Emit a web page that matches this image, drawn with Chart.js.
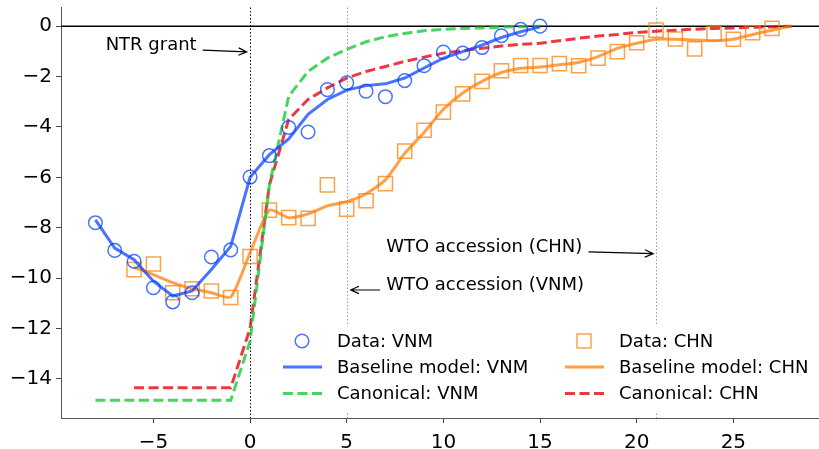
<!DOCTYPE html>
<html>
<head>
<meta charset="utf-8">
<script src="https://cdn.jsdelivr.net/npm/chart.js@4.4.0/dist/chart.umd.min.js"></script>
<style>
  html, body { margin: 0; padding: 0; background: #fff; }
  canvas { display: block; }
</style>
</head>
<body>
<canvas id="chart" width="819" height="449"></canvas>
<script>
// years relative to event
var vnmYears = [-8, -7, -6, -5, -4, -3, -2, -1, 0, 1, 2, 3, 4, 5, 6, 7, 8, 9, 10, 11, 12, 13, 14, 15];
var vnmData = [-7.80, -8.90, -9.33, -10.38, -10.94, -10.58, -9.16, -8.88, -5.99, -5.14, -4.02, -4.20,
               -2.52, -2.25, -2.58, -2.80, -2.16, -1.57, -1.03, -1.07, -0.85, -0.38, -0.13, 0.0];
var vnmModel = [-7.69, -8.81, -9.27, -10.12, -10.71, -10.51, -9.66, -8.74, -6.00, -5.10, -4.48, -3.50,
                -2.91, -2.54, -2.36, -2.29, -2.06, -1.66, -1.27, -1.01, -0.75, -0.45, -0.22, -0.03];
var vnmCanon = [-14.85, -14.85, -14.85, -14.85, -14.85, -14.85, -14.85, -14.85, -12.5, -6.3, -2.78, -1.80,
                -1.27, -0.92, -0.62, -0.42, -0.29, -0.18, -0.13, -0.09, -0.07, -0.04, -0.02, 0.0];

var chnYears = [-6, -5, -4, -3, -2, -1, 0, 1, 2, 3, 4, 5, 6, 7, 8, 9, 10, 11, 12, 13, 14, 15, 16, 17,
                18, 19, 20, 21, 22, 23, 24, 25, 26, 27, 28];
var chnData = [-9.66, -9.44, -10.58, -10.42, -10.51, -10.77, -9.14, -7.30, -7.60, -7.63, -6.30, -7.26,
               -6.93, -6.25, -4.96, -4.13, -3.41, -2.69, -2.19, -1.77, -1.56, -1.56, -1.49, -1.57,
               -1.27, -1.01, -0.66, -0.16, -0.51, -0.90, -0.29, -0.52, -0.26, -0.09];
var chnModel = [-9.57, -9.86, -10.18, -10.42, -10.58, -10.75, -9.00, -7.30, -7.60, -7.45, -7.13, -6.97,
                -6.65, -6.10, -5.05, -4.22, -3.30, -2.65, -2.19, -1.84, -1.67, -1.62, -1.53, -1.44,
                -1.21, -0.88, -0.68, -0.52, -0.52, -0.55, -0.58, -0.52, -0.33, -0.16, 0.0];
var chnCanon = [-14.35, -14.35, -14.35, -14.35, -14.35, -14.35, -12.0, -6.3, -3.7, -2.91, -2.45, -2.06,
                -1.80, -1.60, -1.40, -1.23, -1.07, -0.97, -0.88, -0.79, -0.72, -0.68, -0.58, -0.48,
                -0.39, -0.33, -0.25, -0.20, -0.16, -0.12, -0.09, -0.07, -0.04, -0.03, 0.0];

var xTicks = [-5, 0, 5, 10, 15, 20, 25];
var yTicks = [-14, -12, -10, -8, -6, -4, -2, 0];

var eventLines = [0, 5, 21];
var notes = [
  { text: 'NTR grant', tx: -7.47, ty: -0.78, from: [-2.45, -0.95], to: [-0.17, -1.02] },
  { text: 'WTO accession (CHN)', tx: 7.04, ty: -8.78, from: [17.5, -8.96], to: [20.85, -9.03] },
  { text: 'WTO accession (VNM)', tx: 7.04, ty: -10.28, from: [6.73, -10.47], to: [5.21, -10.47] }
];

var blue = 'rgba(2, 62, 255, 0.72)';
var orange = 'rgba(255, 124, 0, 0.72)';
var green = 'rgba(26, 201, 56, 0.8)';
var red = 'rgba(232, 0, 11, 0.78)';

function pairs(xs, ys) {
  return ys.map(function(y, i) { return { x: xs[i], y: y }; });
}

var FONT = "'DejaVu Sans', sans-serif";

// pin the plot box to where the axes sit in the original figure
var plotBox = { left: 61, top: 7.5, right: 819, bottom: 418 };
var fixArea = {
  id: 'fixArea',
  afterLayout: function(chart) {
    var a = chart.chartArea;
    a.left = plotBox.left; a.right = plotBox.right;
    a.top = plotBox.top; a.bottom = plotBox.bottom;
    a.width = a.right - a.left; a.height = a.bottom - a.top;
    var xs = chart.scales.x, ys = chart.scales.y;
    xs.left = a.left; xs.right = a.right; xs.width = a.width;
    xs.top = a.bottom; xs.bottom = chart.height; xs.height = xs.bottom - xs.top;
    ys.top = a.top; ys.bottom = a.bottom; ys.height = a.height;
    ys.right = a.left; ys.left = 0; ys.width = a.left;
    xs.configure();
    ys.configure();
  }
};

var refLines = {
  id: 'refLines',
  beforeDatasetsDraw: function(chart) {
    var ctx = chart.ctx, a = chart.chartArea;
    var xs = chart.scales.x, ys = chart.scales.y;
    ctx.save();
    ctx.lineWidth = 1;
    eventLines.forEach(function(v, i) {
      var px = Math.round(xs.getPixelForValue(v)) + 0.5;
      ctx.strokeStyle = i === 0 ? '#000' : '#999';
      ctx.setLineDash([1.5, 2]);
      ctx.beginPath();
      ctx.moveTo(px, a.top);
      ctx.lineTo(px, a.bottom);
      ctx.stroke();
    });
    ctx.setLineDash([]);
    var py = ys.getPixelForValue(0);
    ctx.strokeStyle = '#000';
    ctx.lineWidth = 1.5;
    ctx.beginPath();
    ctx.moveTo(a.left, py);
    ctx.lineTo(a.right, py);
    ctx.stroke();
    ctx.restore();
  }
};

var notesPlugin = {
  id: 'notes',
  afterDatasetsDraw: function(chart) {
    var ctx = chart.ctx;
    var xs = chart.scales.x, ys = chart.scales.y;
    ctx.save();
    ctx.font = '18px ' + FONT;
    ctx.fillStyle = '#000';
    ctx.textBaseline = 'middle';
    ctx.textAlign = 'left';
    notes.forEach(function(n) {
      ctx.fillText(n.text, xs.getPixelForValue(n.tx), ys.getPixelForValue(n.ty));
      var x1 = xs.getPixelForValue(n.from[0]), y1 = ys.getPixelForValue(n.from[1]);
      var x2 = xs.getPixelForValue(n.to[0]), y2 = ys.getPixelForValue(n.to[1]);
      var ang = Math.atan2(y2 - y1, x2 - x1);
      ctx.strokeStyle = '#000';
      ctx.lineWidth = 1.2;
      ctx.beginPath();
      ctx.moveTo(x1, y1);
      ctx.lineTo(x2, y2);
      ctx.moveTo(x2 - 9 * Math.cos(ang - 0.42), y2 - 9 * Math.sin(ang - 0.42));
      ctx.lineTo(x2, y2);
      ctx.lineTo(x2 - 9 * Math.cos(ang + 0.42), y2 - 9 * Math.sin(ang + 0.42));
      ctx.stroke();
    });
    ctx.restore();
  }
};

// two-column legend, columns filled top to bottom
var legendBox = {
  id: 'legendBox',
  afterDraw: function(chart) {
    var ctx = chart.ctx;
    var ds = chart.data.datasets;
    var cols = [[0, 1, 2], [3, 4, 5]];
    var colX = [283, 565];
    var rowY = [341, 367, 393.5];
    ctx.save();
    ctx.fillStyle = '#fff';
    ctx.fillRect(272, 326, 547, 86);
    ctx.font = '18px ' + FONT;
    ctx.textBaseline = 'middle';
    ctx.textAlign = 'left';
    cols.forEach(function(col, c) {
      col.forEach(function(k, r) {
        var d = ds[k], x = colX[c], y = rowY[r];
        ctx.strokeStyle = d.borderColor;
        if (d.showLine === false) {
          ctx.lineWidth = d.borderWidth;
          ctx.beginPath();
          if (d.pointStyle === 'rect') {
            ctx.rect(x + 19 - 7, y - 7, 14, 14);
          } else {
            ctx.arc(x + 19, y, 6.8, 0, Math.PI * 2);
          }
          ctx.stroke();
        } else {
          ctx.lineWidth = d.borderWidth;
          ctx.setLineDash(d.borderDash || []);
          ctx.beginPath();
          ctx.moveTo(x, y);
          ctx.lineTo(x + 39, y);
          ctx.stroke();
          ctx.setLineDash([]);
        }
        ctx.fillStyle = '#000';
        ctx.fillText(d.label, x + 54, y + 1);
      });
    });
    ctx.restore();
  }
};

function minusLabel(v) {
  return v < 0 ? '\u2212' + Math.abs(v) : String(v);
}

new Chart(document.getElementById('chart').getContext('2d'), {
  type: 'scatter',
  data: {
    datasets: [
      {
        label: 'Data: VNM', data: pairs(vnmYears, vnmData), showLine: false,
        pointStyle: 'circle', pointRadius: 6.8, borderWidth: 1.5,
        borderColor: blue, backgroundColor: 'rgba(0,0,0,0)'
      },
      {
        label: 'Baseline model: VNM', data: pairs(vnmYears, vnmModel), showLine: true,
        pointRadius: 0, borderWidth: 3, borderColor: blue, tension: 0
      },
      {
        label: 'Canonical: VNM', data: pairs(vnmYears, vnmCanon), showLine: true,
        pointRadius: 0, borderWidth: 3, borderColor: green, borderDash: [10, 4.5]
      },
      {
        label: 'Data: CHN', data: pairs(chnYears.slice(0, chnData.length), chnData), showLine: false,
        pointStyle: 'rect', pointRadius: 10, borderWidth: 1.5,
        borderColor: orange, backgroundColor: 'rgba(0,0,0,0)'
      },
      {
        label: 'Baseline model: CHN', data: pairs(chnYears, chnModel), showLine: true,
        pointRadius: 0, borderWidth: 3, borderColor: orange, tension: 0.2
      },
      {
        label: 'Canonical: CHN', data: pairs(chnYears, chnCanon), showLine: true,
        pointRadius: 0, borderWidth: 3, borderColor: red, borderDash: [10, 4.5]
      }
    ]
  },
  options: {
    responsive: false,
    animation: false,
    plugins: {
      legend: { display: false },
      tooltip: { enabled: false }
    },
    scales: {
      x: {
        type: 'linear',
        min: -9.78,
        max: 29.43,
        afterBuildTicks: function(s) { s.ticks = xTicks.map(function(v) { return { value: v }; }); },
        grid: { drawOnChartArea: false, drawTicks: true, tickLength: 5, color: '#444' },
        border: { display: true, color: '#555', width: 1 },
        ticks: {
          maxRotation: 0,
          padding: 8,
          color: '#000',
          font: { family: FONT, size: 20 },
          callback: function(v) { return minusLabel(v); }
        }
      },
      y: {
        type: 'linear',
        min: -15.55,
        max: 0.74,
        afterBuildTicks: function(s) { s.ticks = yTicks.map(function(v) { return { value: v }; }); },
        grid: { drawOnChartArea: false, drawTicks: true, tickLength: 5, color: '#444' },
        border: { display: true, color: '#555', width: 1 },
        ticks: {
          padding: 4,
          color: '#000',
          font: { family: FONT, size: 20 },
          callback: function(v) { return minusLabel(v); }
        }
      }
    }
  },
  plugins: [fixArea, refLines, notesPlugin, legendBox]
});
</script>
</body>
</html>
